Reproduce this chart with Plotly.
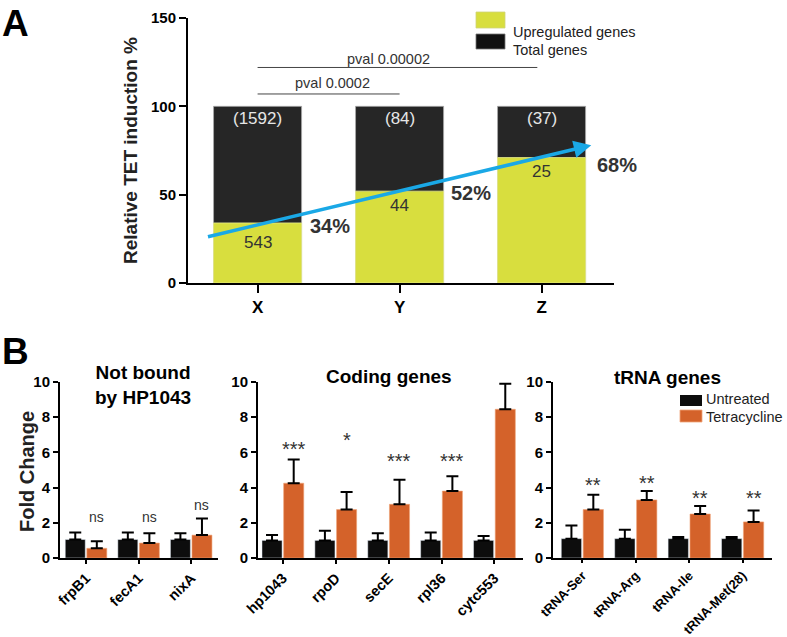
import plotly.graph_objects as go

W, H = 787, 637
FONT = "Liberation Sans, Arial, Helvetica, sans-serif"

# ---------------- Panel A data ----------------
groups_a = ["X", "Y", "Z"]
total_pct = [100, 100, 100]
upreg_pct = [34, 52, 71]
total_counts = ["(1592)", "(84)", "(37)"]
upreg_counts = ["543", "44", "25"]
pct_labels = ["34%", "52%", "68%"]
trend_start = [-0.36, 26]
trend_end = [2.35, 78]
pval_texts = ["pval 0.0002", "pval 0.00002"]
pval_from = [0, 0]
pval_to = [1, 1.97]
pval_level = [107, 122]

# ---------------- Panel B data ----------------
genes_nb = ["frpB1", "fecA1", "nixA"]
untr_nb = [1.05, 1.05, 1.05]
untr_nb_err = [0.4, 0.4, 0.35]
tet_nb = [0.55, 0.85, 1.3]
tet_nb_err = [0.4, 0.55, 0.95]
sig_nb = ["ns", "ns", "ns"]

genes_cod = ["hp1043", "rpoD", "secE", "rpl36", "cytc553"]
untr_cod = [1.0, 1.0, 1.0, 1.0, 1.0]
untr_cod_err = [0.3, 0.55, 0.4, 0.45, 0.25]
tet_cod = [4.25, 2.75, 3.05, 3.8, 8.45]
tet_cod_err = [1.35, 1.0, 1.4, 0.85, 1.45]
sig_cod = ["***", "*", "***", "***", "***"]

genes_trna = ["tRNA-Ser", "tRNA-Arg", "tRNA-Ile", "tRNA-Met(28)"]
untr_trna = [1.1, 1.1, 1.1, 1.1]
untr_trna_err = [0.75, 0.5, 0.1, 0.1]
tet_trna = [2.75, 3.3, 2.5, 2.05]
tet_trna_err = [0.85, 0.5, 0.45, 0.65]
sig_trna = ["**", "**", "**", "**"]

# label heights (layout positions)
upreg_label_y = [23, 44, 63]
total_label_y = 93
pct_label_pos = [[0.51, 32], [1.5, 51], [2.5, 67]]
pct_label_shift = [0, 0, 4]
pval_label_pos = [[0.53, 113], [0.92, 127]]
sig_nb_y = [2.35, 2.35, 3.0]
sig_cod_y = [6.2, 6.7, 5.5, 5.5, 10.15]
sig_trna_y = [4.15, 4.25, 3.4, 3.4]

BLACK_A = "#262626"
YELLOW = "#d8de3e"
ORANGE = "#d4622a"
BLACK_B = "#0d0d0d"
TXT = "#333333"


def px(x):
    return x / W


def py(y):
    return 1 - y / H


fig = go.Figure()

# Panel A bars (overlay)
fig.add_trace(go.Bar(x=groups_a, y=total_pct, name="Total genes", marker_color=BLACK_A,
                     marker_line=dict(color="#aaaaaa", width=0.8), width=0.62, offset=-0.31,
                     xaxis="x", yaxis="y", showlegend=False))
fig.add_trace(go.Bar(x=groups_a, y=upreg_pct, name="Upregulated genes", marker_color=YELLOW,
                     marker_line=dict(color="#e8ec90", width=0.8), width=0.62, offset=-0.31,
                     xaxis="x", yaxis="y", showlegend=False))

# Panel B bars
bw = 0.38
err_style = dict(type="data", symmetric=False, color="black", thickness=2, width=6)
for genes, u, ue, t, te, ax in [
    (genes_nb, untr_nb, untr_nb_err, tet_nb, tet_nb_err, "2"),
    (genes_cod, untr_cod, untr_cod_err, tet_cod, tet_cod_err, "3"),
    (genes_trna, untr_trna, untr_trna_err, tet_trna, tet_trna_err, "4"),
]:
    fig.add_trace(go.Bar(x=genes, y=u, name="Untreated", marker_color=BLACK_B, width=bw,
                         offset=-0.395, xaxis="x" + ax, yaxis="y" + ax, showlegend=False,
                         error_y=dict(array=ue, arrayminus=[0] * len(ue), **err_style)))
    fig.add_trace(go.Bar(x=genes, y=t, name="Tetracycline", marker_color=ORANGE, width=bw,
                         offset=0.015, xaxis="x" + ax, yaxis="y" + ax, showlegend=False,
                         marker_line=dict(color="#f0a478", width=0.6),
                         error_y=dict(array=te, arrayminus=[0] * len(te), **err_style)))

ann = []
shapes = []

# Panel A annotations
for i in range(3):
    ann.append(dict(x=i, y=total_label_y, xref="x", yref="y", text=total_counts[i], showarrow=False,
                    font=dict(size=17, color="#e6e6e6", family=FONT)))
    ann.append(dict(x=i, y=upreg_label_y[i], xref="x", yref="y", text=upreg_counts[i], showarrow=False,
                    font=dict(size=17, color=TXT, family=FONT)))
    ann.append(dict(x=pct_label_pos[i][0], y=pct_label_pos[i][1], xref="x", yref="y", text=pct_labels[i],
                    xshift=pct_label_shift[i], showarrow=False,
                    font=dict(size=20, color=TXT, family=FONT, weight="bold")))
for k in range(2):
    shapes.append(dict(type="line", xref="x", yref="y", x0=pval_from[k], x1=pval_to[k],
                       y0=pval_level[k], y1=pval_level[k], line=dict(color="#444444", width=1)))
    ann.append(dict(x=pval_label_pos[k][0], y=pval_label_pos[k][1], xref="x", yref="y", text=pval_texts[k],
                    showarrow=False, font=dict(size=14.5, color=TXT, family=FONT)))
# trend arrow
ann.append(dict(x=trend_end[0], y=trend_end[1], ax=trend_start[0], ay=trend_start[1], xref="x", yref="y",
                axref="x", ayref="y", text="", showarrow=True, arrowhead=2, arrowsize=1.0,
                arrowwidth=3.5, arrowcolor="#1aa8e6", standoff=0, startstandoff=0))

# Panel A legend
shapes.append(dict(type="rect", xref="paper", yref="paper", x0=px(476), x1=px(505), y0=py(28), y1=py(12),
                   fillcolor=YELLOW, line=dict(color="#cfd37a", width=0.8)))
shapes.append(dict(type="rect", xref="paper", yref="paper", x0=px(476), x1=px(505), y0=py(49), y1=py(34),
                   fillcolor="#111111", line=dict(color="#777777", width=0.8)))
ann.append(dict(x=px(511), y=py(22), xref="paper", yref="paper", text="Upregulated genes", showarrow=False,
                xanchor="left", font=dict(size=14.5, color="#222", family=FONT)))
ann.append(dict(x=px(511), y=py(40), xref="paper", yref="paper", text="Total genes", showarrow=False,
                xanchor="left", font=dict(size=14.5, color="#222", family=FONT)))

# Panel B significance labels
for genes, sig, sy, ax in [(genes_nb, sig_nb, sig_nb_y, "2"), (genes_cod, sig_cod, sig_cod_y, "3"),
                           (genes_trna, sig_trna, sig_trna_y, "4")]:
    for i in range(len(genes)):
        ann.append(dict(x=i + 0.205, y=sy[i], xref="x" + ax, yref="y" + ax, text=sig[i], showarrow=False,
                        font=dict(size=20 if sig[i] != "ns" else 14, color=TXT, family=FONT)))

# Panel B titles
ann.append(dict(x=px(143), y=py(385), xref="paper", yref="paper", text="Not bound<br>by HP1043",
                xanchor="center", yanchor="middle",
                showarrow=False, font=dict(size=19, color="black", family=FONT, weight="bold")))
ann.append(dict(x=px(389), y=py(376), xref="paper", yref="paper", text="Coding genes",
                xanchor="center", yanchor="middle",
                showarrow=False, font=dict(size=19, color="black", family=FONT, weight="bold")))
ann.append(dict(x=px(667), y=py(377), xref="paper", yref="paper", text="tRNA genes",
                xanchor="center", yanchor="middle",
                showarrow=False, font=dict(size=19, color="black", family=FONT, weight="bold")))
# Panel B y title
ann.append(dict(x=px(27), y=py(472), xref="paper", yref="paper", text="Fold Change", textangle=-90,
                xanchor="center", yanchor="middle", showarrow=False,
                font=dict(size=20, color="#222", family=FONT, weight="bold")))

# Panel B legend
shapes.append(dict(type="rect", xref="paper", yref="paper", x0=px(680), x1=px(702), y0=py(406), y1=py(395),
                   fillcolor=BLACK_B, line=dict(width=0)))
shapes.append(dict(type="rect", xref="paper", yref="paper", x0=px(680), x1=px(702), y0=py(422), y1=py(410),
                   fillcolor=ORANGE, line=dict(color="#f0a478", width=0.8)))
ann.append(dict(x=px(704), y=py(399), xref="paper", yref="paper", text="Untreated", showarrow=False,
                xanchor="left", font=dict(size=14.5, color="#222", family=FONT)))
ann.append(dict(x=px(704), y=py(417), xref="paper", yref="paper", text="Tetracycline", showarrow=False,
                xanchor="left", font=dict(size=14.5, color="#222", family=FONT)))

# Panel letters
ann.append(dict(x=px(0), y=py(1), xref="paper", yref="paper", text="A", showarrow=False, xanchor="left",
                yanchor="top", font=dict(size=37, color="black", family=FONT, weight="bold")))
ann.append(dict(x=px(0), y=py(329), xref="paper", yref="paper", text="B", showarrow=False, xanchor="left",
                yanchor="top", font=dict(size=37, color="black", family=FONT, weight="bold")))

axis_common = dict(showline=True, linecolor="black", linewidth=2, ticks="outside", tickwidth=2,
                   tickcolor="black", showgrid=False, zeroline=False, fixedrange=True, automargin=False)
xb_font = dict(size=14.5, family=FONT, weight="bold", color="black")
xb_font_small = dict(size=13, family=FONT, weight="bold", color="black")
yb_font = dict(size=15, family=FONT, weight="bold", color="black")

yB = [py(558), py(382)]
layout_axes = dict(
    xaxis=dict(domain=[px(188), px(614)], range=[-0.49, 2.51], type="category", anchor="y", ticklen=8,
               tickfont=dict(size=17, family=FONT, weight="bold", color="black"), **axis_common),
    yaxis=dict(domain=[py(283), py(18)], range=[0, 150], tickvals=[0, 50, 100, 150], anchor="x", ticklen=7,
               tickfont=dict(size=15, family=FONT, weight="bold", color="black"),
               title=dict(text="Relative TET induction %", standoff=8,
                          font=dict(size=19, family=FONT, weight="bold", color="#222")),
               **axis_common),
    xaxis2=dict(domain=[px(60), px(218)], range=[-0.495, 2.51], type="category", anchor="y2", ticklen=4,
                tickangle=-45, tickfont=xb_font, **axis_common),
    yaxis2=dict(domain=yB, range=[0, 10], tickvals=[0, 2, 4, 6, 8, 10], anchor="x2", ticklen=5,
                tickfont=yb_font, **axis_common),
    xaxis3=dict(domain=[px(258), px(523)], range=[-0.47, 4.54], type="category", anchor="y3", ticklen=4,
                tickangle=-45, tickfont=xb_font, **axis_common),
    yaxis3=dict(domain=yB, range=[0, 10], tickvals=[0, 2, 4, 6, 8, 10], anchor="x3", ticklen=5,
                tickfont=yb_font, **axis_common),
    xaxis4=dict(domain=[px(553), px(772)], range=[-0.55, 3.55], type="category", anchor="y4", ticklen=3,
                tickangle=-45, tickfont=xb_font_small, **axis_common),
    yaxis4=dict(domain=yB, range=[0, 10], tickvals=[0, 2, 4, 6, 8, 10], anchor="x4", ticklen=5,
                tickfont=yb_font, **axis_common),
)

fig.update_layout(
    width=W, height=H, margin=dict(l=0, r=0, t=0, b=0, autoexpand=False), paper_bgcolor="white",
    plot_bgcolor="white", barmode="overlay", showlegend=False, annotations=ann, shapes=shapes,
    font=dict(family=FONT, color="black"), **layout_axes,
)

fig.write_html("out.html", config={"displayModeBar": False, "staticPlot": True},
               post_script="document.body.style.margin='0px';document.body.style.overflow='hidden';")
